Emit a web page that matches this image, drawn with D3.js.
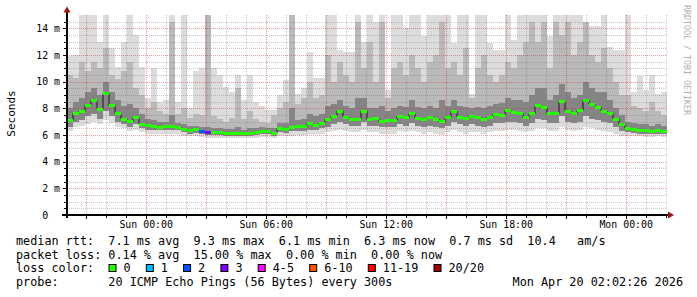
<!DOCTYPE html>
<html><head><meta charset="utf-8">
<script src="https://cdn.jsdelivr.net/npm/d3@7"></script>
<style>
html,body{margin:0;padding:0;background:#fff;}
svg{display:block;}
text{font-family:"DejaVu Sans Mono",monospace;white-space:pre;}
</style></head><body>
<svg id="c" width="697" height="297"></svg>
<script>
// ---- data (18-minute consolidated steps, 30 h window) ----
const startTime = Date.UTC(2026, 3, 18, 20, 2, 26);
const endTime = Date.UTC(2026, 3, 20, 2, 2, 26);
const median = [
 7.1, 7.63, 7.8, 8.25, 8.6, 7.95, 9.1, 8.2, 7.6, 7.2,
 7.0, 7.3, 6.8, 6.7, 6.62, 6.6, 6.65, 6.62, 6.6, 6.45,
 6.32, 6.38, 6.27, 6.2, 6.2, 6.17, 6.15, 6.15, 6.15, 6.13,
 6.12, 6.2, 6.3, 6.25, 6.12, 6.5, 6.4, 6.55, 6.62, 6.62,
 6.87, 6.72, 6.9, 7.2, 7.42, 7.8, 7.35, 7.17, 7.2, 7.8,
 7.15, 7.25, 7.0, 7.1, 7.1, 7.4, 7.3, 7.6, 7.25, 7.2,
 7.3, 7.2, 7.0, 7.3, 7.8, 7.35, 7.25, 7.4, 7.3, 7.2,
 7.35, 7.55, 7.5, 7.85, 7.7, 7.6, 7.3, 7.6, 8.2, 8.05,
 7.6, 7.6, 8.5, 7.8, 7.6, 7.85, 8.6, 8.3, 8.1, 7.8,
 7.6, 7.2, 6.8, 6.5, 6.4, 6.37, 6.32, 6.25, 6.35, 6.27];
const lossCount = [
 0,0,0,0,0,0,0,0,0,0, 0,0,0,0,0,0,0,0,0,0,
 0,0,2,3,0,0,0,0,0,0, 0,0,0,0,0,0,0,0,0,0,
 0,0,0,0,0,0,0,0,0,0, 0,0,0,0,0,0,0,0,0,0,
 0,0,0,0,0,0,0,0,0,0, 0,0,0,0,0,0,0,0,0,0,
 0,0,0,0,0,0,0,0,0,0, 0,0,0,0,0,0,0,0,0,0];
const pingMin = [
 6.3, 6.6, 6.7, 6.8, 7.0, 6.8, 7.1, 6.9, 6.6, 6.5,
 6.3, 6.4, 6.2, 6.1, 6.1, 6.05, 6.1, 6.1, 6.05, 5.95,
 5.9, 5.9, 5.85, 5.8, 5.8, 5.8, 5.75, 5.75, 5.75, 5.75,
 5.75, 5.8, 5.85, 5.85, 5.8, 5.9, 5.9, 5.95, 6.0, 6.0,
 6.05, 6.05, 6.1, 6.2, 6.3, 6.4, 6.3, 6.2, 6.2, 6.4,
 6.2, 6.2, 6.1, 6.1, 6.1, 6.3, 6.2, 6.3, 6.2, 6.1,
 6.2, 6.1, 6.0, 6.2, 6.4, 6.2, 6.1, 6.2, 6.2, 6.1,
 6.2, 6.3, 6.3, 6.4, 6.4, 6.3, 6.2, 6.3, 6.5, 6.5,
 6.3, 6.3, 6.6, 6.4, 6.3, 6.4, 6.6, 6.5, 6.4, 6.3,
 6.2, 6.1, 5.95, 5.9, 5.9, 5.9, 5.85, 5.85, 5.9, 5.85];
const pingLowQ = [
 6.6, 7.0, 7.1, 7.4, 7.6, 7.2, 7.8, 7.4, 7.0, 6.8,
 6.6, 6.8, 6.5, 6.4, 6.4, 6.35, 6.4, 6.4, 6.35, 6.2,
 6.1, 6.15, 6.05, 6.0, 6.0, 6.0, 5.95, 5.95, 5.95, 5.95,
 5.95, 6.0, 6.05, 6.05, 5.95, 6.2, 6.15, 6.3, 6.3, 6.3,
 6.4, 6.4, 6.5, 6.6, 6.8, 7.0, 6.8, 6.7, 6.7, 7.0,
 6.7, 6.7, 6.6, 6.6, 6.6, 6.8, 6.7, 6.9, 6.7, 6.6,
 6.7, 6.6, 6.5, 6.7, 7.0, 6.8, 6.7, 6.8, 6.7, 6.6,
 6.7, 6.9, 6.9, 7.0, 7.0, 6.9, 6.7, 6.9, 7.2, 7.1,
 6.9, 6.9, 7.4, 7.0, 6.9, 7.0, 7.4, 7.2, 7.1, 7.0,
 6.9, 6.6, 6.3, 6.2, 6.15, 6.1, 6.1, 6.05, 6.1, 6.05];
const pingHighQ = [
 8.0, 8.5, 8.8, 9.2, 9.5, 9.0, 10.0, 9.2, 8.6, 8.2,
 8.3, 8.0, 7.6, 7.2, 7.1, 7.0, 7.0, 7.5, 6.9, 6.8,
 6.7, 6.7, 6.6, 6.6, 6.5, 6.5, 6.45, 6.45, 6.6, 6.4,
 6.5, 6.5, 6.6, 6.55, 6.5, 6.9, 6.9, 8.0, 7.1, 7.2,
 7.6, 7.4, 7.6, 8.2, 8.3, 8.6, 8.2, 8.0, 8.8, 8.8,
 8.0, 8.0, 8.2, 7.8, 8.0, 8.2, 8.1, 8.6, 8.1, 8.0,
 8.2, 8.0, 8.6, 8.2, 8.6, 8.2, 8.1, 8.0, 8.1, 8.0,
 8.2, 8.3, 8.4, 8.8, 8.6, 8.6, 8.5, 9.0, 9.5, 9.5,
 8.6, 9.0, 9.8, 9.2, 8.8, 9.0, 10.0, 9.5, 9.2, 9.2,
 8.6, 8.0, 7.5, 7.0, 6.9, 6.8, 6.8, 6.7, 6.8, 6.7];
const pingP90 = [
 10.5, 10.3, 11.5, 10.8, 11.5, 11.0, 12.5, 10.5, 10.2, 10.8,
 11.5, 9.5, 9.0, 8.0, 8.5, 7.8, 7.6, 14.5, 7.6, 8.0,
 7.3, 7.6, 7.5, 15, 7.4, 7.2, 7.0, 7.3, 9.5, 7.2,
 7.8, 7.2, 7.0, 6.9, 7.5, 8.0, 8.5, 15, 8.3, 8.8,
 10.0, 8.8, 9.0, 12.0, 10.0, 11.5, 10.5, 10.0, 14.5, 11.0,
 13.0, 10.0, 14.5, 8.8, 11.0, 11.5, 10.5, 12.0, 11.0, 10.0,
 11.5, 12.0, 14.5, 11.0, 11.5, 10.5, 12.5, 8.8, 11.0, 12.0,
 10.5, 10.0, 10.5, 11.5, 11.0, 12.0, 13.0, 14.5, 13.0, 14.5,
 11.0, 14.5, 13.5, 14.5, 12.0, 13.0, 14.5, 12.0, 11.5, 12.5,
 11.0, 10.0, 9.0, 9.0, 8.2, 8.0, 7.8, 8.5, 7.8, 7.5];
const pingMax = [
 11.9, 12.0, 15, 15, 15, 13.0, 15, 12.5, 11.1, 13.0,
 15, 13.5, 11.1, 8.8, 11.0, 8.5, 8.6, 15, 8.5, 15,
 8.0, 10.8, 11.0, 15, 11.0, 10.5, 9.6, 9.2, 10.5, 8.6,
 10.5, 8.5, 8.2, 7.9, 7.9, 9.0, 10.1, 15, 9.1, 9.5,
 12.2, 10.3, 10.3, 15, 15, 12.4, 12.2, 12.2, 15, 13.0,
 15, 14.5, 15, 9.4, 15, 15, 14.0, 15, 15, 13.4,
 15, 15, 15, 15, 12.9, 15, 15, 9.1, 15, 15,
 12.9, 12.4, 12.4, 15, 13.1, 15, 15, 15, 15, 15,
 13.4, 15, 15, 15, 15, 15, 14.5, 14.2, 14.2, 15,
 12.6, 12.4, 12.4, 15, 9.2, 10.4, 9.4, 10.5, 9.1, 9.2];
const yTickValues = [0, 2, 4, 6, 8, 10, 12, 14];
const lossLabels = ["0", "1", "2", "3", "4-5", "6-10", "11-19", "20/20"];
const lossColors = ["#26ff00", "#00b8ff", "#0059ff", "#7e00ff", "#ff00ff", "#ff5500", "#ff0000", "#a10000"];
const rttStats = [["7.1 ms", "avg"], ["9.3 ms", "max"], ["6.1 ms", "min"], ["6.3 ms", "now"], ["0.7 ms", "sd"]];
const rttAmS = "10.4";
const lossStats = [["0.14 %", "avg"], ["15.00 %", "max"], ["0.00 %", "min"], ["0.00 %", "now"]];
const probeText = "20 ICMP Echo Pings (56 Bytes) every 300s";
const dateText = "Mon Apr 20 02:02:26 2026";

// ---- drawing ----
const svg = d3.select("#c");
svg.append("rect").attr("width", 697).attr("height", 297).attr("fill", "#fff");
const n = median.length;
const stepMs = (endTime - startTime) / n;
const tAt = i => new Date(startTime + i * stepMs);
const x = d3.scaleUtc().domain([new Date(startTime), new Date(endTime)]).range([67, 667]);
const y = d3.scaleLinear().domain([0, 15]).range([215, 15]);
const yc = v => y(Math.min(15, v));

const bands = [
  {lo: pingMin, hi: pingMax, color: "#dcdcdc"},
  {lo: pingLowQ, hi: pingP90, color: "#bababa"},
  {lo: pingLowQ, hi: pingHighQ, color: "#858585"}
];
const smoke = svg.append("g").attr("shape-rendering", "crispEdges");
bands.forEach(b => {
  smoke.append("g").selectAll("rect").data(d3.range(n)).join("rect")
    .attr("x", i => x(tAt(i)))
    .attr("width", i => x(tAt(i + 1)) - x(tAt(i)))
    .attr("y", i => yc(b.hi[i]))
    .attr("height", i => y(b.lo[i]) - yc(b.hi[i]))
    .attr("fill", b.color);
});

// grid
const grid = svg.append("g").attr("shape-rendering", "crispEdges");
const hours = d3.utcHour.range(new Date(startTime), new Date(endTime));
hours.forEach(h => {
  const major = h.getUTCHours() % 3 === 0;
  grid.append("line").attr("x1", Math.round(x(h)) + 0.5).attr("x2", Math.round(x(h)) + 0.5)
    .attr("y1", 15).attr("y2", 215)
    .attr("stroke", major ? "rgba(200,40,40,0.45)" : "rgba(120,120,120,0.4)")
    .attr("stroke-dasharray", "1,1");
});
d3.range(0.5, 15, 0.5).forEach(v => {
  const major = v % 2 === 0;
  grid.append("line").attr("x1", 67).attr("x2", 667)
    .attr("y1", Math.round(y(v)) + 0.5).attr("y2", Math.round(y(v)) + 0.5)
    .attr("stroke", major ? "rgba(200,40,40,0.45)" : "rgba(120,120,120,0.4)")
    .attr("stroke-dasharray", "1,1");
});

// median: dark step connectors then loss-coloured segments
const lossColor = c => c === 0 ? lossColors[0] : c === 1 ? lossColors[1] : c === 2 ? lossColors[2] :
  c === 3 ? lossColors[3] : c <= 5 ? lossColors[4] : c <= 10 ? lossColors[5] : c < 20 ? lossColors[6] : lossColors[7];
const stepPts = d3.range(n).map(i => [x(tAt(i)), y(median[i])]);
stepPts.push([x(tAt(n)), y(median[n - 1])]);
svg.append("path").attr("d", d3.line().curve(d3.curveStepAfter)(stepPts))
  .attr("fill", "none").attr("stroke", "#1a1a1a").attr("stroke-width", 1);
svg.append("g").attr("shape-rendering", "crispEdges").selectAll("rect").data(d3.range(n)).join("rect")
  .attr("x", i => x(tAt(i)))
  .attr("width", i => x(tAt(i + 1)) - x(tAt(i)))
  .attr("y", i => y(median[i]) - 1.5)
  .attr("height", 3)
  .attr("fill", i => lossColor(lossCount[i]));

// axes
const ax = svg.append("g").attr("shape-rendering", "crispEdges");
hours.forEach(h => {
  const major = h.getUTCHours() % 3 === 0;
  ax.append("line").attr("x1", Math.round(x(h)) + 0.5).attr("x2", Math.round(x(h)) + 0.5)
    .attr("y1", 216).attr("y2", major ? 219 : 218).attr("stroke", "#000");
});
d3.range(0.5, 15, 0.5).forEach(v => {
  const major = v % 2 === 0;
  ax.append("line").attr("x1", major ? 63 : 64).attr("x2", 66)
    .attr("y1", Math.round(y(v)) + 0.5).attr("y2", Math.round(y(v)) + 0.5).attr("stroke", "#000");
});
ax.append("rect").attr("x", 66).attr("y", 11).attr("width", 2).attr("height", 207).attr("fill", "#000");
ax.append("rect").attr("x", 62).attr("y", 214).attr("width", 607).attr("height", 2).attr("fill", "#000");
svg.append("path").attr("d", "M63.5,12.5L70.5,12.5L67,6.5Z").attr("fill", "#9a1515");
svg.append("path").attr("d", "M668,211.5L668,218.5L674,215Z").attr("fill", "#9a1515");

// tick labels
svg.append("g").selectAll("text").data(yTickValues).join("text")
  .attr("x", 60).attr("y", v => y(v) + 3.6)
  .attr("text-anchor", "end").attr("font-size", 9.9).attr("fill", "#000")
  .text(v => v === 0 ? "0  " : v + " m");
const xTicks = x.ticks(d3.utcHour.every(6));
svg.append("g").selectAll("text").data(xTicks).join("text")
  .attr("x", d => x(d)).attr("y", 228)
  .attr("text-anchor", "middle").attr("font-size", 9.9).attr("fill", "#000")
  .text(d3.utcFormat("%a %H:%M"));

svg.append("text").attr("transform", "translate(15,113.5) rotate(-90)")
  .attr("text-anchor", "middle").attr("font-size", 11).attr("fill", "#000").text("Seconds");
svg.append("text").attr("transform", "translate(684,5) rotate(90)")
  .attr("font-size", 8.3).attr("fill", "#b0b0b0").text("RRDTOOL / TOBI OETIKER");

// legend
const fs = 11.8;
const row1 = "median rtt:  " + rttStats.map(s => s[0] + " " + s[1]).join("  ") + "  " + rttAmS + "   am/s";
const row2 = "packet loss: " + lossStats.map(s => s[0] + " " + s[1]).join("  ");
const leg = svg.append("g").attr("font-size", fs).attr("fill", "#000");
leg.append("text").attr("x", 16).attr("y", 245).text(row1);
leg.append("text").attr("x", 16).attr("y", 258.5).text(row2);
leg.append("text").attr("x", 16).attr("y", 272).text("loss color:");
leg.append("text").attr("x", 16).attr("y", 285.5).text("probe:       " + probeText);
leg.append("text").attr("x", 683).attr("y", 285.5).attr("text-anchor", "end").text(dateText);
let bx = 108.5;
const cw = 7.1;
lossLabels.forEach((lab, i) => {
  leg.append("rect").attr("x", bx + 0.5).attr("y", 264.5).attr("width", 7).attr("height", 7)
    .attr("fill", lossColors[i]).attr("stroke", "#000").attr("stroke-width", 1);
  leg.append("text").attr("x", bx + 15).attr("y", 272).text(lab);
  bx = bx + 15 + lab.length * cw + 15.2;
});
</script></body></html>
